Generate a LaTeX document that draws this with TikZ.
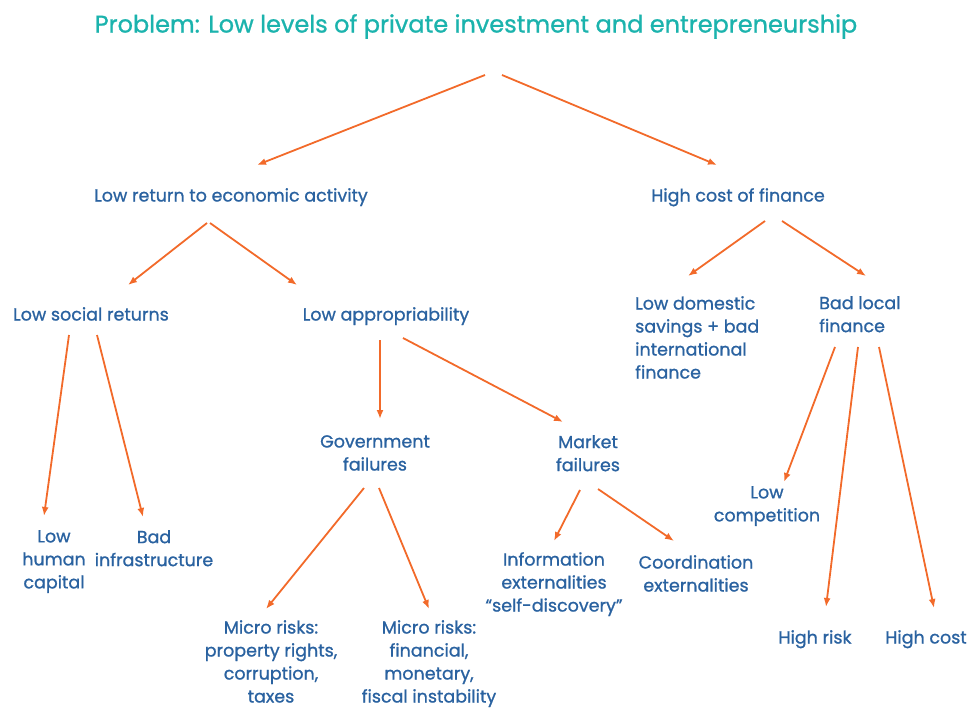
\documentclass[tikz,border=0pt]{standalone}
\usepackage{fontspec}
\setmainfont{Poppins}
\newfontfamily\medfont{Poppins}[FakeBold=1.0]
\usetikzlibrary{arrows.meta}
\definecolor{txtblue}{HTML}{2A62A0}
\definecolor{ttlteal}{HTML}{1BB3AD}
\definecolor{arrorange}{HTML}{F26A2A}
\begin{document}
\begin{tikzpicture}[x=1pt,y=-1pt,
  lbl/.style={inner sep=0pt,anchor=north,align=center,text=txtblue,font=\medfont\fontsize{17.5}{23}\selectfont},
  lbll/.style={lbl,anchor=north west,align=left},
  ttl/.style={inner sep=0pt,anchor=north,text=ttlteal,font=\medfont\fontsize{24}{28}\selectfont},
  arr/.style={draw=arrorange,line width=1.8pt,-{Latex[length=9pt,width=7pt]}}]
\useasboundingbox (0,0) rectangle (968,709);
% texts
\node[ttl] (title) at (476,14) {Problem: Low levels of private investment and entrepreneurship};
\node[lbl] (lowret) at (231,188) {Low return to economic activity};
\node[lbl] (highcost) at (738,188) {High cost of finance};
\node[lbl] (social) at (91,307) {Low social returns};
\node[lbl] (approp) at (386,307) {Low appropriability};
\node[lbll] (domestic) at (635,296) {Low domestic\\savings + bad\\international\\finance};
\node[lbll] (badlocal) at (819,296) {Bad local\\finance};
\node[lbl] (gov) at (375,435) {Government\\failures};
\node[lbl] (market) at (588,435) {Market\\failures};
\node[lbl] (human) at (54,530) {Low\\human\\capital};
\node[lbl] (infra) at (154,530) {Bad\\infrastructure};
\node[lbl] (compet) at (767,486) {Low\\competition};
\node[lbl] (info) at (554,552) {Information\\externalities\\“self-discovery”};
\node[lbl] (coord) at (696,555) {Coordination\\externalities};
\node[lbl] (micro1) at (271,620) {Micro risks:\\property rights,\\corruption,\\taxes};
\node[lbl] (micro2) at (429,620) {Micro risks:\\financial,\\monetary,\\fiscal instability};
\node[lbl] (hrisk) at (815,630) {High risk};
\node[lbl] (hcost) at (926,630) {High cost};
% connector end points
\coordinate (t1) at (485,75);   \coordinate (t1e) at (257,165);
\coordinate (t2) at (502,75);   \coordinate (t2e) at (717,165);
\coordinate (r1) at (207,223);  \coordinate (r1e) at (128,285);
\coordinate (r2) at (210,223);  \coordinate (r2e) at (297,285);
\coordinate (h1) at (765,221);  \coordinate (h1e) at (688,276);
\coordinate (h2) at (782,221);  \coordinate (h2e) at (866,276);
\coordinate (s1) at (69,335);   \coordinate (s1e) at (44,516);
\coordinate (s2) at (97,335);   \coordinate (s2e) at (143,517);
\coordinate (a1) at (380,340);  \coordinate (a1e) at (380,419);
\coordinate (a2) at (403,338);  \coordinate (a2e) at (563,422);
\coordinate (g1) at (364,488);  \coordinate (g1e) at (266,609);
\coordinate (g2) at (379,488);  \coordinate (g2e) at (429,609);
\coordinate (m1) at (580,490);  \coordinate (m1e) at (554,541);
\coordinate (m2) at (598,489);  \coordinate (m2e) at (674,541);
\coordinate (b1) at (835,347);  \coordinate (b1e) at (784,482);
\coordinate (b2) at (858,347);  \coordinate (b2e) at (826,607);
\coordinate (b3) at (879,347);  \coordinate (b3e) at (934,608);
% connectors
\foreach \s/\e in {t1/t1e,t2/t2e,r1/r1e,r2/r2e,h1/h1e,h2/h2e,s1/s1e,s2/s2e,a1/a1e,a2/a2e,g1/g1e,g2/g2e,m1/m1e,m2/m2e,b1/b1e,b2/b2e,b3/b3e}
  \draw[arr] (\s) -- (\e);
\end{tikzpicture}
\end{document}
